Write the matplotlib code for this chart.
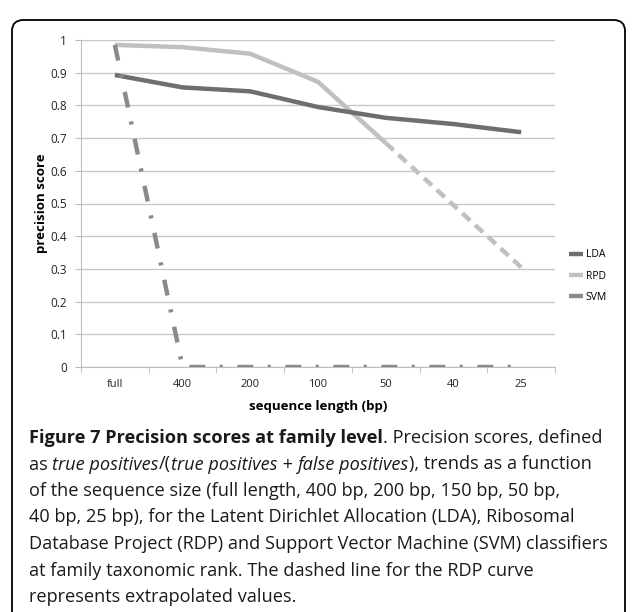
import matplotlib
matplotlib.use("Agg")
import matplotlib.pyplot as plt
from matplotlib.patches import FancyBboxPatch

categories = ["full", "400", "200", "100", "50", "40", "25"]
lda = [0.893, 0.855, 0.843, 0.795, 0.762, 0.743, 0.718]
rdp_measured = [0.985, 0.978, 0.958, 0.872, 0.685]
rdp_extrap = [0.685, 0.495, 0.305]
svm = [0.985, 0.0, 0.0, 0.0, 0.0, 0.0, 0.0]
yticks = [0, 0.1, 0.2, 0.3, 0.4, 0.5, 0.6, 0.7, 0.8, 0.9, 1]
ytick_labels = ["0", "0.1", "0.2", "0.3", "0.4", "0.5", "0.6", "0.7", "0.8", "0.9", "1"]

W, H = 637, 612
fig = plt.figure(figsize=(W / 100, H / 100), dpi=100)
fig.patch.set_facecolor("white")

# frame
frame = FancyBboxPatch((12 / W, -0.05), (625 - 12) / W, (612 - 20) / H + 0.05,
                       boxstyle="round,pad=0,rounding_size=0.018",
                       transform=fig.transFigure, fill=False, edgecolor="black",
                       linewidth=1.3)
fig.patches.append(frame)

ax = fig.add_axes([81 / W, 1 - 367 / H, (555 - 81) / W, (367 - 40) / H])
x = list(range(len(categories)))

c_lda = "#6e6e6e"
c_rdp = "#c0c0c0"
c_svm = "#8a8a8a"
lw = 3.2

ax.plot(x, lda, color=c_lda, lw=lw, solid_capstyle="butt", label="LDA", zorder=4)
ax.plot(x[:len(rdp_measured)], rdp_measured, color=c_rdp, lw=lw, solid_capstyle="butt",
        label="RPD", zorder=3)
ax.plot(x[len(rdp_measured) - 1:], rdp_extrap, color=c_rdp, lw=lw,
        dashes=(2.4, 1.5), dash_capstyle="butt", zorder=3)
ax.plot(x, svm, color=c_svm, lw=lw, dashes=(3.6, 3.2, 0.7, 3.3), dash_capstyle="butt",
        label="SVM", zorder=5)

ax.set_xlim(-0.5, len(categories) - 0.5)
ax.set_ylim(0, 1)
ax.set_yticks(yticks)
ax.set_yticklabels(ytick_labels)
ax.set_xticks(x)
ax.set_xticklabels(categories)
ax.set_xticks([i + 0.5 for i in range(-1, len(categories))], minor=True)
ax.tick_params(axis="x", which="major", length=0, pad=8.5, labelsize=8, labelcolor="#222222")
ax.tick_params(axis="x", which="minor", length=4, color="#bdbdbd", direction="out")
ax.tick_params(axis="y", length=4, color="#bdbdbd", pad=6, labelsize=8.5, labelcolor="#222222")
for lab in ax.get_xticklabels() + ax.get_yticklabels():
    lab.set_family("Open Sans")

ax.grid(axis="y", color="#c8c8c8", lw=1)
ax.set_axisbelow(True)
for s in ["top", "right"]:
    ax.spines[s].set_visible(False)
ax.spines["left"].set_color("#bdbdbd")
ax.spines["bottom"].set_color("#bdbdbd")

ax.set_ylabel("precision score", fontsize=9.5, fontweight="bold", family="Open Sans",
              labelpad=2)
ax.set_xlabel("sequence length (bp)", fontsize=9.5, fontweight="bold", family="Open Sans",
              labelpad=7.5)

leg = ax.legend(loc="center left", bbox_to_anchor=(1.01, 0.278), frameon=False,
                handlelength=1.3, handletextpad=0.3, labelspacing=1.0,
                prop={"family": "Open Sans", "size": 7.5})

# caption
lines = [
    [("Figure 7 Precision scores at family level", "bold", "normal"),
     (". Precision scores, defined", "normal", "normal")],
    [("as ", "normal", "normal"), ("true positives", "normal", "italic"),
     ("/(", "normal", "normal"), ("true positives", "normal", "italic"),
     (" + ", "normal", "normal"), ("false positives", "normal", "italic"),
     ("), trends as a function", "normal", "normal")],
    [("of the sequence size (full length, 400 bp, 200 bp, 150 bp, 50 bp,", "normal", "normal")],
    [("40 bp, 25 bp), for the Latent Dirichlet Allocation (LDA), Ribosomal", "normal", "normal")],
    [("Database Project (RDP) and Support Vector Machine (SVM) classifiers", "normal", "normal")],
    [("at family taxonomic rank. The dashed line for the RDP curve", "normal", "normal")],
    [("represents extrapolated values.", "normal", "normal")],
]
fig.canvas.draw()
renderer = fig.canvas.get_renderer()
y0 = 443
for i, parts in enumerate(lines):
    xp = 29
    yp = y0 + i * 26.5
    for txt, wt, st in parts:
        t = fig.text(xp / W, 1 - yp / H, txt, fontsize=13.1, fontweight=wt, fontstyle=st,
                     family="Open Sans", color="#1a1a1a", va="baseline", ha="left")
        bb = t.get_window_extent(renderer=renderer)
        xp += bb.width

fig.savefig("out.png", dpi=100, facecolor="white")
